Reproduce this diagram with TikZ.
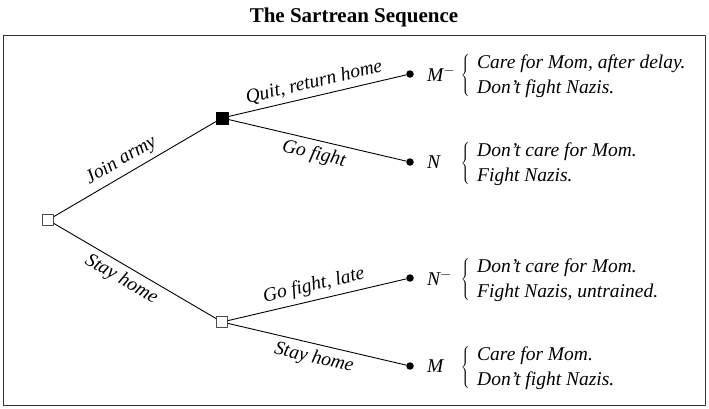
\documentclass[tikz,border=0pt]{standalone}
\usepackage{fontspec}
\setmainfont{Liberation Serif}
\usetikzlibrary{calc}

\begin{document}
\begin{tikzpicture}[x=1pt, y=-1pt, line cap=round, line join=round,
	font=\fontsize{19.5}{25}\selectfont\itshape,
	decision/.style={draw=black!70, line width=1.1pt, fill=white, minimum size=11pt, inner sep=0pt},
	forced/.style={draw=black, fill=black, minimum size=12pt, inner sep=0pt},
	outcome/.style={circle, fill=black, minimum size=7.5pt, inner sep=0pt},
	branch/.style={line width=0.9pt},
	lbl/.style={sloped, midway, inner sep=5pt},
	leafname/.style={anchor=west, inner sep=0pt},
	bracebox/.style={inner sep=0pt},
	result/.style={anchor=west, align=left, inner sep=0pt}]
	
	\useasboundingbox (0,0) rectangle (709,408);
	
	%========================
	% title and frame
	%========================
	\node[font=\fontsize{21}{25}\selectfont\bfseries\upshape] (title) at (354,17) {The Sartrean Sequence};
	\draw[black!80, line width=1pt] (3.5,35) rectangle (705.5,405);
	
	%========================
	% decision points
	%========================
	\node[decision] (root) at (48,220) {};
	\node[forced]   (army) at (222,118) {};
	\node[decision] (home) at (222,322) {};
	
	% outcomes
	\node[outcome] (quit)  at (410,74)  {};
	\node[outcome] (fight) at (410,162) {};
	\node[outcome] (late)  at (410,278) {};
	\node[outcome] (stay)  at (410,366) {};
	
	%========================
	% branches
	%========================
	\draw[branch] (root) -- node[lbl, above, pos=0.46] {Join army} (army);
	\draw[branch] (root) -- node[lbl, below, pos=0.46] {Stay home} (home);
	\draw[branch] (army) -- node[lbl, above] {Quit, return home} (quit);
	\draw[branch] (army) -- node[lbl, below] {Go fight} (fight);
	\draw[branch] (home) -- node[lbl, above] {Go fight, late} (late);
	\draw[branch] (home) -- node[lbl, below] {Stay home} (stay);
	
	%========================
	% outcome labels
	%========================
	\node[leafname] (quitname)  at (427,74)  {M$^{-}$};
	\node[leafname] (fightname) at (427,162) {N};
	\node[leafname] (latename)  at (427,278) {N$^{-}$};
	\node[leafname] (stayname)  at (427,366) {M};
	
	% braces
	\foreach \y/\b in {75/quitbrace, 163/fightbrace, 279/latebrace, 367/staybrace}
		\node[bracebox] (\b) at (466,\y) {$\left\{\vcenter{\hbox{\rule{0pt}{40pt}}}\right.$};
	
	\node[result] (quittext)  at (477,76)  {Care for Mom, after delay.\\Don't fight Nazis.};
	\node[result] (fighttext) at (477,164) {Don't care for Mom.\\Fight Nazis.};
	\node[result] (latetext)  at (477,280) {Don't care for Mom.\\Fight Nazis, untrained.};
	\node[result] (staytext)  at (477,368) {Care for Mom.\\Don't fight Nazis.};
	
\end{tikzpicture}
\end{document}
